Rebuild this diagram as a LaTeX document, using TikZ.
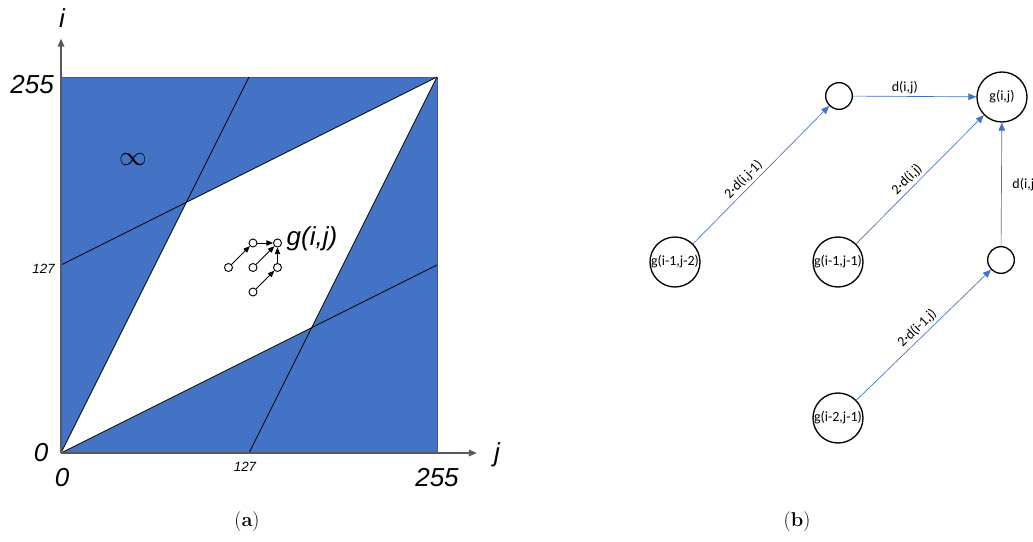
\documentclass[tikz,border=0pt]{standalone}
\usepackage{fontspec}
\newfontfamily\plotfont{Liberation Sans}
\newfontfamily\graphfont{Carlito}
\usetikzlibrary{arrows.meta,positioning}
\definecolor{cellBlue}{HTML}{4472C4}
\definecolor{axisGray}{HTML}{595959}

\begin{document}
\begin{tikzpicture}[
  x=0.75pt, y=-0.75pt,
  big/.style={font=\plotfont\itshape\fontsize{19.5}{22}\selectfont, inner sep=0pt},
  tick/.style={font=\plotfont\itshape\fontsize{10}{11}\selectfont, inner sep=0pt},
  axis/.style={-{Triangle[length=6pt,width=5pt]}, axisGray, line width=1.1pt},
  cut/.style={black, line width=0.6pt},
  dot/.style={circle, draw, line width=0.7pt, inner sep=0pt, minimum size=6pt},
  dotarr/.style={-{Triangle[length=5pt,width=4pt]}, line width=0.6pt},
  cell/.style={circle, draw, line width=1pt, inner sep=0pt, minimum size=37.5pt,
               font=\graphfont\fontsize{10.5}{12}\selectfont},
  aux/.style={circle, draw, line width=1pt, inner sep=0pt, minimum size=20pt},
  arr/.style={-{Triangle[length=6pt,width=5pt]}, cellBlue, line width=0.5pt},
  lbl/.style={font=\graphfont\fontsize{10.5}{12}\selectfont, text=black, inner sep=2pt},
  captext/.style={font=\fontsize{15}{17}\selectfont}
]
\useasboundingbox (0,0) rectangle (1033,542);

% (a) the band of allowed paths
\begin{scope}[shift={(61,453)}, x=1.10588pt, y=1.10588pt]
  \fill[cellBlue] (0,0) rectangle (255,255);
  \fill[white] (0,0) -- (85,170) -- (255,255) -- (170,85) -- cycle;
  \draw[axisGray, line width=0.5pt] (0,255) -- (255,255) -- (255,0);
  \draw[cut] (0,0) -- (127.5,255);
  \draw[cut] (0,0) -- (255,127.5);
  \draw[cut] (0,127.5) -- (255,255);
  \draw[cut] (127.5,0) -- (255,255);
  \coordinate (o) at (0,0);
  \coordinate (itop) at (0,281);
  \coordinate (jend) at (282,0);
\end{scope}
\draw[axis] (o) -- (itop);
\draw[axis] (o) -- (jend);

\node[big] (ilab) at (62,18) {i};
\node[big] (jlab) at (497,455) {j};
\node[big, anchor=east] (i255) at (54,85) {255};
\node[big] (i0) at (41,453) {0};
\node[big] (j0) at (62,478) {0};
\node[big] (j255) at (437,478) {255};
\node[tick, anchor=east] (i127) at (55,269) {127};
\node[tick] (j127) at (245,467) {127};
\node[font=\fontsize{22}{24}\selectfont] (inf) at (133,160) {$\infty$};
\node[big] (glab) at (312,239) {g(i,j)};

% small step pattern
\node[dot] (p1) at (228.5,267.5) {};
\node[dot] (p2) at (253,243) {};
\node[dot] (p3) at (277.5,243) {};
\node[dot] (p4) at (253,267.5) {};
\node[dot] (p5) at (277.5,267.5) {};
\node[dot] (p6) at (253,292) {};
\draw[dotarr] (p1) -- (p2);
\draw[dotarr] (p2) -- (p3);
\draw[dotarr] (p4) -- (p3);
\draw[dotarr] (p5) -- (p3);
\draw[dotarr] (p6) -- (p5);

% (b) the step graph
\node[cell] (gij) at (1002,97) {g(i,j)};
\node[aux]  (up)  at (839,96) {};
\node[aux]  (rt)  at (1001,260) {};
\node[cell] (g12) at (675,262) {g(i-1,j-2)};
\node[cell] (g11) at (838,262) {g(i-1,j-1)};
\node[cell] (g21) at (838,418) {g(i-2,j-1)};
\draw[arr] (g12) -- node[lbl, sloped, above, pos=0.42] {2·d(i,j-1)} (up);
\draw[arr] (up)  -- node[lbl, above, pos=0.42] {d(i,j)} (gij);
\draw[arr] (g11) -- node[lbl, sloped, above, pos=0.45] {2·d(i,j)} (gij);
\draw[arr] (rt)  -- node[lbl, right, xshift=6pt] {d(i,j)} (gij);
\draw[arr] (g21) -- node[lbl, sloped, above] {2·d(i-1,j)} (rt);

\node[captext] (capa) at (247,522) {(\textbf{a})};
\node[captext] (capb) at (797,522) {(\textbf{b})};
\end{tikzpicture}
\end{document}
